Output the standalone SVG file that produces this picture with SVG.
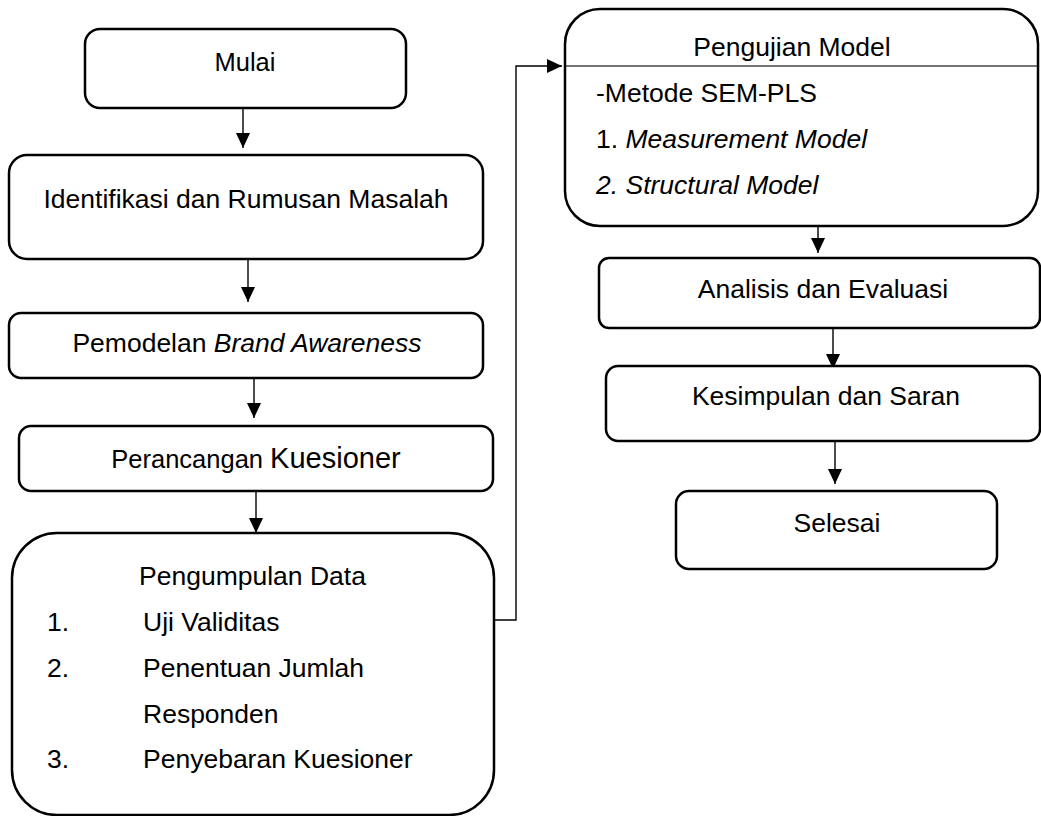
<svg xmlns="http://www.w3.org/2000/svg" width="1041" height="816" viewBox="0 0 1041 816">
<defs>
<style>
.box{fill:#fff;stroke:#000;stroke-width:2.5}
.conn{fill:none;stroke:#000;stroke-width:1.4}
.div{stroke:#444;stroke-width:1.3}
text{font-family:"Liberation Sans",Arial,sans-serif;font-size:26.5px;fill:#000}
.c{text-anchor:middle}
.i{font-style:italic}
</style>
<marker id="ah" markerUnits="userSpaceOnUse" markerWidth="16" markerHeight="15" refX="15" refY="7" orient="auto">
<path d="M0,0 L15,7 L0,14 Z" fill="#000"/>
</marker>
</defs>
<rect width="1041" height="816" fill="#fff"/>
<g id="connectors">
<line class="conn" x1="243" y1="108" x2="243" y2="148" marker-end="url(#ah)"/>
<line class="conn" x1="248" y1="259" x2="248" y2="302" marker-end="url(#ah)"/>
<line class="conn" x1="254" y1="378" x2="254" y2="418" marker-end="url(#ah)"/>
<line class="conn" x1="256" y1="491" x2="256" y2="533" marker-end="url(#ah)"/>
<path class="conn" d="M494,620 H516 V66 H562" marker-end="url(#ah)"/>
<line class="conn" x1="818" y1="226" x2="818" y2="253" marker-end="url(#ah)"/>
<line class="conn" x1="833" y1="327" x2="833" y2="369" marker-end="url(#ah)"/>
<line class="conn" x1="835" y1="441" x2="835" y2="484" marker-end="url(#ah)"/>
</g>
<g id="mulai">
<rect class="box" x="85" y="29" width="321" height="79" rx="15"/>
<text class="c" x="245" y="71" style="font-size:25.5px">Mulai</text>
</g>
<g id="identifikasi">
<rect class="box" x="9" y="155" width="474" height="104" rx="18"/>
<text class="c" x="246" y="208">Identifikasi dan Rumusan Masalah</text>
</g>
<g id="pemodelan">
<rect class="box" x="9" y="313" width="474" height="65" rx="12"/>
<text class="c" x="247" y="352">Pemodelan <tspan class="i">Brand Awareness</tspan></text>
</g>
<g id="perancangan">
<rect class="box" x="19" y="426" width="474" height="65" rx="12"/>
<text class="c" x="256" y="468"><tspan style="font-size:25.5px">Perancangan </tspan><tspan style="font-size:29px">Kuesioner</tspan></text>
</g>
<g id="pengumpulan">
<rect class="box" x="12" y="533" width="482" height="282" rx="45"/>
<text x="139" y="585">Pengumpulan Data</text>
<text x="47" y="631">1.</text>
<text x="143" y="631">Uji Validitas</text>
<text x="47" y="677">2.</text>
<text x="143" y="677">Penentuan Jumlah</text>
<text x="143" y="723">Responden</text>
<text x="47" y="768">3.</text>
<text x="143" y="768">Penyebaran Kuesioner</text>
</g>
<g id="pengujian">
<rect class="box" x="565" y="9" width="473" height="217" rx="35"/>
<line class="div" x1="566" y1="66" x2="1037" y2="66"/>
<text class="c" x="792" y="56">Pengujian Model</text>
<text x="596" y="102">-Metode SEM-PLS</text>
<text x="596" y="148">1. <tspan class="i">Measurement Model</tspan></text>
<text class="i" x="596" y="194">2. Structural Model</text>
</g>
<g id="analisis">
<rect class="box" x="599" y="258" width="441" height="70" rx="10"/>
<text class="c" x="823" y="298">Analisis dan Evaluasi</text>
</g>
<g id="kesimpulan">
<rect class="box" x="606" y="366" width="434" height="75" rx="12"/>
<text class="c" x="826" y="405">Kesimpulan dan Saran</text>
</g>
<g id="selesai">
<rect class="box" x="676" y="491" width="321" height="78" rx="13"/>
<text class="c" x="837" y="532">Selesai</text>
</g>
</svg>
